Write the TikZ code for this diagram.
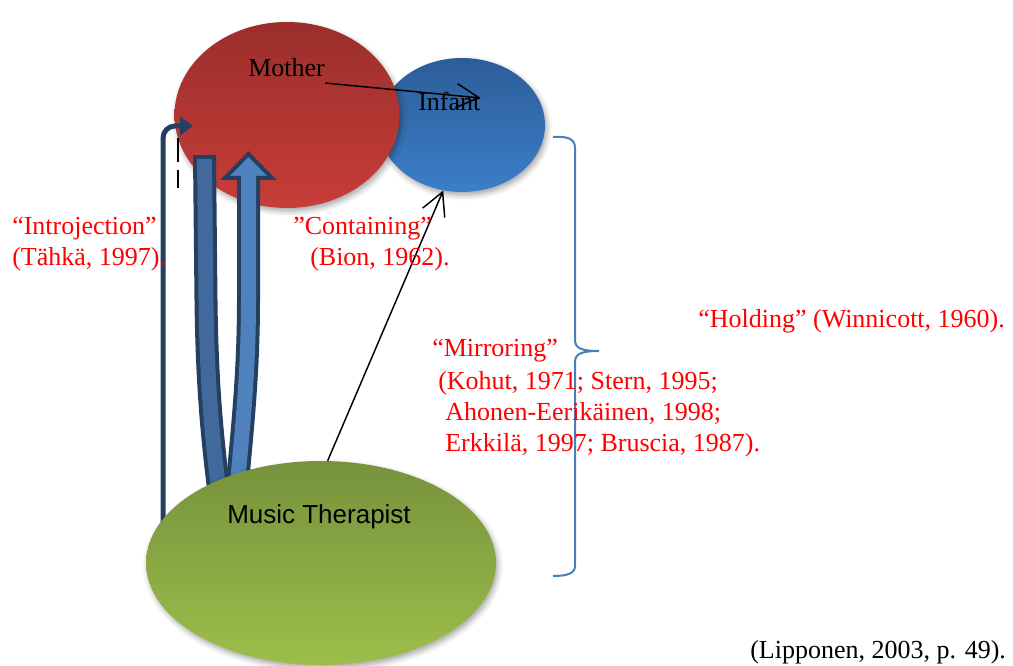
\documentclass[tikz,border=0pt]{standalone}
\usepackage{fontspec}
\setmainfont{Liberation Serif}
\setsansfont{Liberation Sans}
\usetikzlibrary{shapes.geometric,arrows.meta,shadows.blur}

\definecolor{outlinenavy}{HTML}{243F60}
\definecolor{bandleft}{HTML}{41699B}
\definecolor{bandright}{HTML}{4F81BD}
\definecolor{redtop}{HTML}{9A2E2B}
\definecolor{redbottom}{HTML}{C73D39}
\definecolor{bluetop}{HTML}{2C5D98}
\definecolor{bluebottom}{HTML}{3C7EC9}
\definecolor{greentop}{HTML}{76923C}
\definecolor{greenbottom}{HTML}{9DBE4A}
\definecolor{bracketblue}{HTML}{4A7EBB}

\begin{document}
\begin{tikzpicture}[x=0.75pt,y=-0.75pt,
  bubble/.style={ellipse,inner sep=0pt,
    blur shadow={shadow xshift=1.5pt,shadow yshift=-2.5pt,
      shadow blur radius=4pt,shadow opacity=35}},
  bigtext/.style={anchor=base west,inner sep=0pt,
    font=\fontsize{19.5}{23}\selectfont},
  cite/.style={bigtext,text=red},
  barb/.style={line width=1.1pt,-{Straight Barb[length=17pt,width=18pt]}},
  navyline/.style={draw=outlinenavy,line width=3.75pt},
  bandouter/.style={draw=outlinenavy,line width=17.25pt,line cap=butt},
  bandinner/.style={line width=11.25pt,line cap=butt}]

\useasboundingbox (0,0) rectangle (1013,666);

% the two circles of the dyad
\node[bubble,minimum width=124.5pt,minimum height=100.5pt,
      top color=bluetop,bottom color=bluebottom] (infant) at (462,125) {};
\node[bubble,minimum width=168.75pt,minimum height=139.5pt,
      top color=redtop,bottom color=redbottom] (mother) at (287,115) {};

% introjection: line rising to the mother, with a solid triangular head
\coordinate (introfoot) at (163,540);
\coordinate (introtip) at (193,126);
\coordinate (introneck) at (181,126);
\draw[navyline,rounded corners=9pt] (introfoot) |- (introneck);
\fill[outlinenavy] (introtip) -- ([shift={(-13,-9.5)}]introtip)
  -- ([shift={(-13,9.5)}]introtip) -- cycle;

% dashed marker beside it
\coordinate (dashtop) at (178,138);
\coordinate (dashbottom) at (178,188);
\draw[line width=1.5pt,dash pattern=on 18pt off 6pt] (dashtop) -- (dashbottom);

% left band (flat top)
\coordinate (lbtop) at (204.5,155);
\coordinate (lbbend) at (206,300);
\coordinate (lbfoot) at (220,500);
\draw[bandouter] (lbtop) -- (lbbend) .. controls (207,390) and (213,445) .. (lbfoot);
\draw[bandinner,draw=bandleft] ([yshift=-3pt]lbtop) -- (lbbend) .. controls (207,390) and (213,445) .. (lbfoot);

% right band with arrow head
\coordinate (rbtop) at (248.5,178);
\coordinate (rbbend) at (248.5,300);
\coordinate (rbfoot) at (236,500);
\draw[bandouter] (rbtop) -- (rbbend) .. controls (248.5,380) and (241,440) .. (rbfoot);
\draw[draw=outlinenavy,fill=bandright,line width=3pt,line join=miter]
  (225,178) -- (248.5,154) -- (272,178) -- cycle;
\draw[bandinner,draw=bandright] (248.5,172) -- (rbbend) .. controls (248.5,380) and (241,440) .. (rbfoot);

% therapist
\node[bubble,minimum width=262.5pt,minimum height=153pt,
      top color=greentop,bottom color=greenbottom] (therapist) at (321,563) {};

% labels
\node[bigtext] (mothertext) at (248,77) {Mother};
\node[bigtext] (infanttext) at (418,111) {Infant};
\node[bigtext,font=\sffamily\fontsize{19.5}{23}\selectfont] (therapisttext) at (227,523) {Music Therapist};

% connectors
\draw[barb] ([yshift=-4.5pt]mothertext.base east) -- ([yshift=3pt]infanttext.east);
\draw[barb] ([xshift=5pt]therapist.north) -- (infant.254);

% holding bracket
\draw[bracketblue,line width=1.5pt]
  (553,137) .. controls (568,136) and (575,139) .. (575,148)
  -- (575,340) .. controls (575,348) and (581,351) .. (599,351)
  .. controls (581,351) and (575,354) .. (575,362)
  -- (575,566) .. controls (575,573) and (568,576) .. (553,576);

% citations
\node[cite] (introA) at (12,235) {“Introjection”};
\node[cite] (introB) at (12,266) {(Tähkä, 1997).};
\node[cite] (contA) at (293,235) {”Containing”};
\node[cite] (contB) at (310,266) {(Bion, 1962).};
\node[cite] (holding) at (698,328) {“Holding” (Winnicott, 1960).};
\node[cite] (mirrA) at (432,357) {“Mirroring”};
\node[cite] (mirrB) at (438,389) {(Kohut, 1971; Stern, 1995;};
\node[cite] (mirrC) at (445,420) {Ahonen-Eerikäinen, 1998;};
\node[cite] (mirrD) at (445,451) {Erkkilä, 1997; Bruscia, 1987).};
\node[bigtext] (source) at (750,658) {(Lipponen, 2003, p. 49).};
\end{tikzpicture}
\end{document}
